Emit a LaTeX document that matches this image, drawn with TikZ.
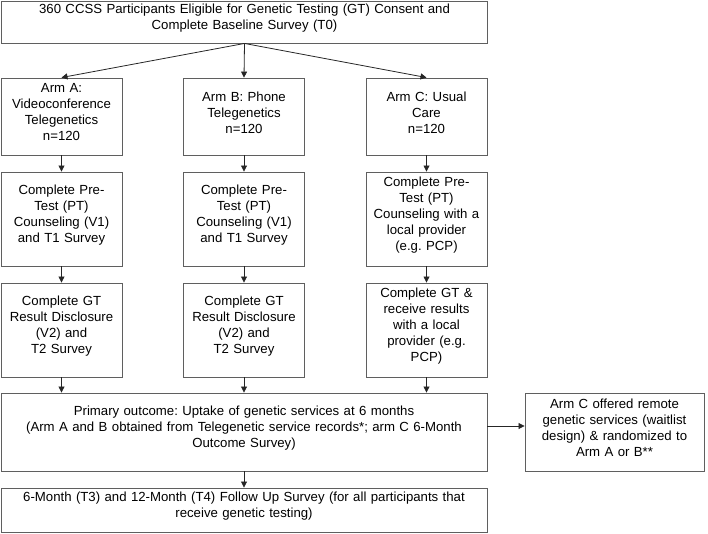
\documentclass[tikz,border=0pt]{standalone}
\usepackage{fontspec}
\setmainfont{Liberation Sans}
\usetikzlibrary{arrows.meta, positioning}
\definecolor{boxgray}{RGB}{95, 95, 95}
\newcommand{\boxpad}{\endgraf\vspace{8pt}}
\frenchspacing

\begin{document}
\begin{tikzpicture}[
  x=1pt, y=-1pt,
  box/.style={draw=boxgray, line width=0.9pt, inner xsep=2pt, inner ysep=0pt,
    font=\fontsize{13.2}{16}\selectfont, execute at begin node=\centering, execute at end node=\boxpad},
  arm/.style={box, text width=117pt, minimum height=77pt},
  stage/.style={box, text width=117pt, minimum height=94pt},
  wide/.style={box, text width=482pt},
  arr/.style={-{Triangle[length=6pt, width=6pt]}, line width=0.8pt, draw=black!85},
]
  \useasboundingbox (0,0) rectangle (708,533);

  \node[wide, minimum height=42pt] (top) at (244.5, 22) {360 CCSS Participants Eligible for Genetic Testing (GT) Consent and\\Complete Baseline Survey (T0)};

  \node[arm] (armA) at (61.5, 116.5) {Arm A:\\Videoconference\\Telegenetics\\n=120};
  \node[arm] (armB) at (244, 116.5) {Arm B: Phone\\Telegenetics\\n=120};
  \node[arm] (armC) at (426.5, 116.5) {Arm C: Usual\\Care\\n=120};

  \node[stage] (ptA) at (61.5, 219) {Complete Pre-\\Test (PT)\\Counseling (V1)\\and T1 Survey};
  \node[stage] (ptB) at (244, 219) {Complete Pre-\\Test (PT)\\Counseling (V1)\\and T1 Survey};
  \node[stage] (ptC) at (426.5, 219) {Complete Pre-\\Test (PT)\\Counseling with a\\local provider\\(e.g. PCP)};

  \node[stage] (gtA) at (61.5, 330) {Complete GT\\Result Disclosure\\(V2) and\\T2 Survey};
  \node[stage] (gtB) at (244, 330) {Complete GT\\Result Disclosure\\(V2) and\\T2 Survey};
  \node[stage] (gtC) at (426.5, 330) {Complete GT \&\\receive results\\with a local\\provider (e.g.\\PCP)};

  \node[wide, minimum height=78pt] (primary) at (244, 432) {Primary outcome: Uptake of genetic services at 6 months\\(Arm A and B obtained from Telegenetic service records*; arm C 6-Month\\Outcome Survey)};
  \node[wide, minimum height=44pt] (follow) at (244, 510) {6-Month (T3) and 12-Month (T4) Follow Up Survey (for all participants that\\receive genetic testing)};

  \node[box, text width=175pt, minimum height=78pt] (offer) at (614.5, 432) {Arm C offered remote\\genetic services (waitlist\\design) \& randomized to\\Arm A or B**};

  \draw[arr] (top.south) -- (armA.north);
  \draw[arr] (top.south) -- (armB.north);
  \draw[arr] (top.south) -- (armC.north);
  \foreach \a in {A, B, C} {
    \draw[arr] (arm\a.south) -- (pt\a.north);
    \draw[arr] (pt\a.south) -- (gt\a.north);
    \draw[arr] (gt\a.south) -- (gt\a.south |- primary.north);
  }
  \draw[arr] (primary.south) -- (follow.north);
  \draw[arr] ([yshift=6pt]primary.east) -- ([yshift=6pt]primary.east -| offer.west);
\end{tikzpicture}
\end{document}
